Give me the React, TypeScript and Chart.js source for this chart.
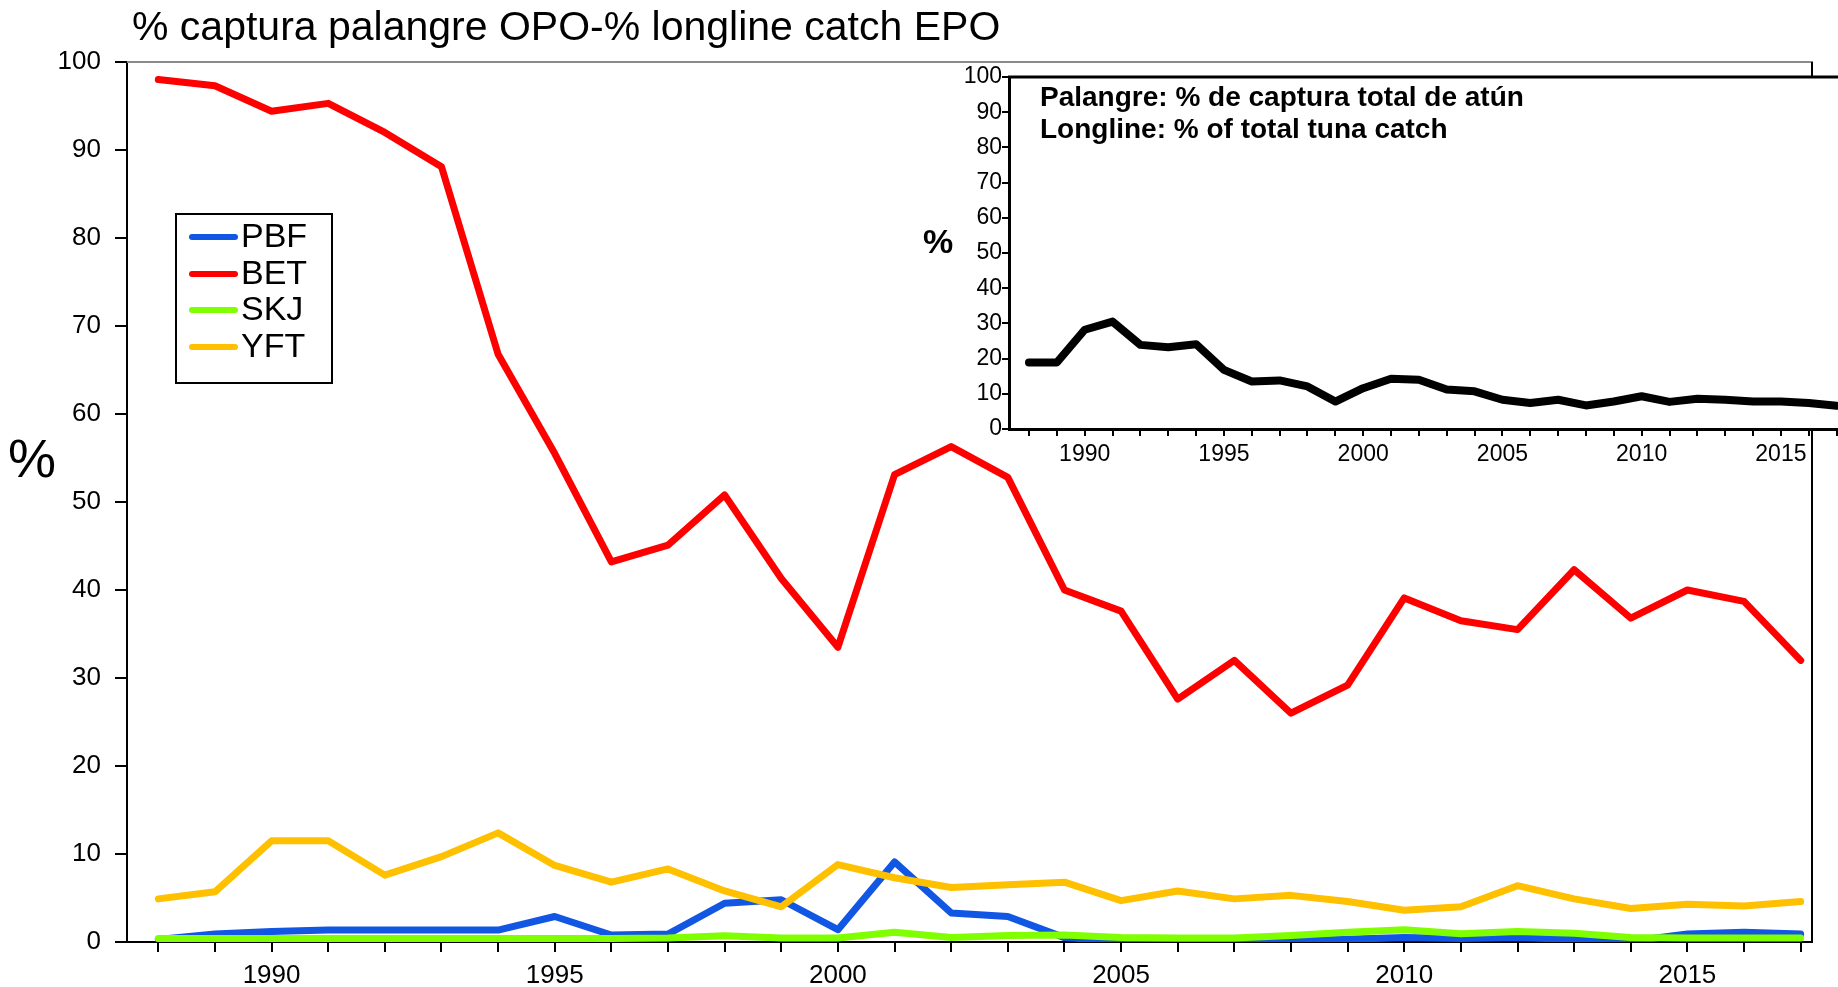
import React, { useEffect, useRef } from 'react';
import { Chart, registerables } from 'chart.js';

Chart.register(...registerables);

// ---------------- data ----------------
const years = [
  1988, 1989, 1990, 1991, 1992, 1993, 1994, 1995, 1996, 1997,
  1998, 1999, 2000, 2001, 2002, 2003, 2004, 2005, 2006, 2007,
  2008, 2009, 2010, 2011, 2012, 2013, 2014, 2015, 2016, 2017,
];
const labelYears = [1990, 1995, 2000, 2005, 2010, 2015];

const pbf = [
  0.3, 0.9, 1.2, 1.35, 1.35, 1.35, 1.35, 2.9, 0.8, 0.9,
  4.4, 4.8, 1.4, 9.1, 3.3, 2.9, 0.5, 0.1, 0.1, 0.1,
  0.15, 0.3, 0.5, 0.4, 0.5, 0.3, 0.1, 0.9, 1.1, 0.9,
];
const bet = [
  98.0, 97.3, 94.4, 95.3, 92.0, 88.1, 66.8, 55.5, 43.2, 45.1,
  50.8, 41.3, 33.5, 53.1, 56.3, 52.8, 40.0, 37.6, 27.6, 32.0,
  26.0, 29.2, 39.1, 36.5, 35.5, 42.3, 36.8, 40.0, 38.7, 32.0,
];
const skj = [
  0.4, 0.4, 0.4, 0.4, 0.4, 0.4, 0.4, 0.4, 0.4, 0.45,
  0.7, 0.45, 0.45, 1.1, 0.5, 0.75, 0.8, 0.5, 0.45, 0.45,
  0.75, 1.1, 1.4, 0.95, 1.2, 1.0, 0.5, 0.45, 0.45, 0.45,
];
const yft = [
  4.9, 5.7, 11.5, 11.5, 7.6, 9.7, 12.4, 8.7, 6.8, 8.3,
  5.8, 4.0, 8.8, 7.3, 6.2, 6.5, 6.8, 4.7, 5.8, 4.9,
  5.3, 4.6, 3.6, 4.0, 6.4, 4.9, 3.8, 4.3, 4.1, 4.6,
];
const totalLongline = [
  18.9, 18.9, 28.2, 30.5, 23.9, 23.2, 24.1, 16.8, 13.5, 13.8,
  12.1, 7.8, 11.6, 14.3, 14.0, 11.2, 10.7, 8.3, 7.4, 8.3,
  6.7, 7.8, 9.3, 7.7, 8.6, 8.3, 7.8, 7.8, 7.4, 6.6,
];

const seriesNames = ['PBF', 'BET', 'SKJ', 'YFT'];
const seriesColors = ['#1157E3', '#FF0000', '#80FF00', '#FFC000'];
const seriesValues = [pbf, bet, skj, yft];

const mainTitle = '% captura palangre OPO-% longline catch EPO';
const insetTitle1 = 'Palangre: % de captura total de atún';
const insetTitle2 = 'Longline: % of total tuna catch';

const FONT = "'Liberation Sans', Arial, Helvetica, sans-serif";

// ---------------- plugins ----------------
const mainDecor = {
  id: 'mainDecor',
  afterDraw(chart: any) {
    const { ctx, chartArea } = chart;
    const { left, right, top, bottom } = chartArea;
    ctx.save();
    // top frame (grey)
    ctx.strokeStyle = '#8a8a8a';
    ctx.lineWidth = 2;
    ctx.beginPath();
    ctx.moveTo(left, top);
    ctx.lineTo(right + 1, top);
    ctx.stroke();
    // right frame (black)
    ctx.strokeStyle = '#000';
    ctx.lineWidth = 2;
    ctx.beginPath();
    ctx.moveTo(right, top);
    ctx.lineTo(right, bottom);
    ctx.stroke();

    ctx.fillStyle = '#000';
    // title
    ctx.font = `41px ${FONT}`;
    ctx.textAlign = 'left';
    ctx.textBaseline = 'middle';
    ctx.fillText(mainTitle, 132, 29);
    // y axis title
    ctx.font = `54px ${FONT}`;
    ctx.textAlign = 'center';
    ctx.fillText('%', 32, 462);

    // legend box
    const bx = 176, by = 214, bw = 156, bh = 169;
    ctx.strokeStyle = '#000';
    ctx.lineWidth = 2;
    ctx.strokeRect(bx, by, bw, bh);
    ctx.font = `34px ${FONT}`;
    ctx.textAlign = 'left';
    ctx.textBaseline = 'middle';
    const rows = [237, 274, 310, 347];
    chart.data.datasets.forEach((ds: any, i: number) => {
      const y = rows[i];
      ctx.strokeStyle = ds.borderColor;
      ctx.lineWidth = 6;
      ctx.lineCap = 'round';
      ctx.beginPath();
      ctx.moveTo(192, y);
      ctx.lineTo(235, y);
      ctx.stroke();
      ctx.fillStyle = '#000';
      ctx.fillText(ds.label, 241, y + 1);
    });
    ctx.restore();
  },
};

const insetDecor = {
  id: 'insetDecor',
  beforeDraw(chart: any) {
    const { ctx, chartArea } = chart;
    ctx.save();
    ctx.fillStyle = '#fff';
    ctx.fillRect(chartArea.left, chartArea.top, chartArea.right - chartArea.left, chartArea.bottom - chartArea.top);
    ctx.restore();
  },
  afterDraw(chart: any) {
    const { ctx, chartArea } = chart;
    ctx.save();
    ctx.strokeStyle = '#000';
    ctx.lineWidth = 3;
    ctx.beginPath();
    ctx.moveTo(chartArea.left - 1, chartArea.top);
    ctx.lineTo(chartArea.right, chartArea.top);
    ctx.stroke();
    ctx.fillStyle = '#000';
    ctx.font = `bold 28px ${FONT}`;
    ctx.textAlign = 'left';
    ctx.textBaseline = 'middle';
    ctx.fillText(insetTitle1, 140, 48);
    ctx.fillText(insetTitle2, 140, 80);
    ctx.font = `bold 34px ${FONT}`;
    ctx.textAlign = 'center';
    ctx.fillText('%', 38, 194);
    ctx.restore();
  },
};

export default function App() {
  const mainRef = useRef<HTMLCanvasElement>(null);
  const insetRef = useRef<HTMLCanvasElement>(null);

  useEffect(() => {
    document.body.style.margin = '0';
    document.body.style.background = '#fff';
    if (!mainRef.current || !insetRef.current) return;

    const main = new Chart(mainRef.current, {
      type: 'line',
      data: {
        datasets: seriesNames.map((name, si) => ({
          label: name,
          data: years.map((x, i) => ({ x, y: seriesValues[si][i] })),
          borderColor: seriesColors[si],
          backgroundColor: seriesColors[si],
          order: 4 - si,
        })),
      },
      options: {
        animation: false,
        responsive: false,
        devicePixelRatio: 1,
        layout: { padding: { left: 0, top: 62, right: 26, bottom: 0 } },
        elements: {
          point: { radius: 0 },
          line: { borderWidth: 7, tension: 0, borderCapStyle: 'round', borderJoinStyle: 'round' },
        },
        plugins: { legend: { display: false }, tooltip: { enabled: false }, title: { display: false } },
        scales: {
          x: {
            type: 'linear',
            min: 1987.447,
            max: 2017.2,
            afterBuildTicks: (s: any) => { s.ticks = years.map((v) => ({ value: v })); },
            afterFit: (s: any) => { s.height = 45; },
            ticks: {
              autoSkip: false,
              maxRotation: 0,
              padding: 8,
              color: '#000',
              font: { family: FONT, size: 26 },
              callback: (v: any) => (labelYears.includes(Number(v)) ? String(v) : ''),
            },
            grid: { drawOnChartArea: false, drawTicks: true, tickLength: 10, color: '#000', lineWidth: 2 },
            border: { display: true, color: '#000', width: 2 },
          },
          y: {
            min: 0,
            max: 100,
            afterFit: (s: any) => { s.width = 127; },
            ticks: { stepSize: 10, padding: 14, color: '#000', font: { family: FONT, size: 26 } },
            grid: { drawOnChartArea: false, drawTicks: true, tickLength: 12, color: '#000', lineWidth: 2 },
            border: { display: true, color: '#000', width: 2 },
          },
        },
      } as any,
      plugins: [mainDecor],
    });

    const inset = new Chart(insetRef.current, {
      type: 'line',
      data: {
        datasets: [
          {
            label: 'Longline total',
            data: years.map((x, i) => ({ x, y: totalLongline[i] })),
            borderColor: '#000',
            backgroundColor: '#000',
          },
        ],
      },
      options: {
        animation: false,
        responsive: false,
        devicePixelRatio: 1,
        layout: { padding: { left: 0, top: 27, right: 0, bottom: 0 } },
        elements: {
          point: { radius: 0 },
          line: { borderWidth: 8, tension: 0, borderCapStyle: 'round', borderJoinStyle: 'round' },
        },
        plugins: { legend: { display: false }, tooltip: { enabled: false }, title: { display: false } },
        scales: {
          x: {
            type: 'linear',
            min: 1987.282,
            max: 2017.84,
            afterBuildTicks: (s: any) => { s.ticks = years.map((v) => ({ value: v })); },
            afterFit: (s: any) => { s.height = 51; },
            ticks: {
              autoSkip: false,
              maxRotation: 0,
              padding: 5,
              color: '#000',
              font: { family: FONT, size: 23 },
              callback: (v: any) => (labelYears.includes(Number(v)) ? String(v) : ''),
            },
            grid: { drawOnChartArea: false, drawTicks: true, tickLength: 7, color: '#000', lineWidth: 2 },
            border: { display: true, color: '#000', width: 3 },
          },
          y: {
            min: 0,
            max: 100,
            afterFit: (s: any) => { s.width = 109; },
            ticks: { stepSize: 10, padding: 0, color: '#000', font: { family: FONT, size: 23 } },
            grid: { drawOnChartArea: false, drawTicks: true, tickLength: 7, color: '#000', lineWidth: 2 },
            border: { display: true, color: '#000', width: 3 },
          },
        },
      } as any,
      plugins: [insetDecor],
    });

    return () => {
      main.destroy();
      inset.destroy();
    };
  }, []);

  return (
    <div style={{ position: 'relative', width: 1838, height: 987, overflow: 'hidden', background: '#fff' }}>
      <canvas
        ref={mainRef}
        width={1838}
        height={987}
        style={{ position: 'absolute', left: 0, top: 0, width: 1838, height: 987, display: 'block' }}
      />
      <canvas
        ref={insetRef}
        width={960}
        height={430}
        style={{ position: 'absolute', left: 900, top: 50, width: 960, height: 430, display: 'block' }}
      />
    </div>
  );
}
